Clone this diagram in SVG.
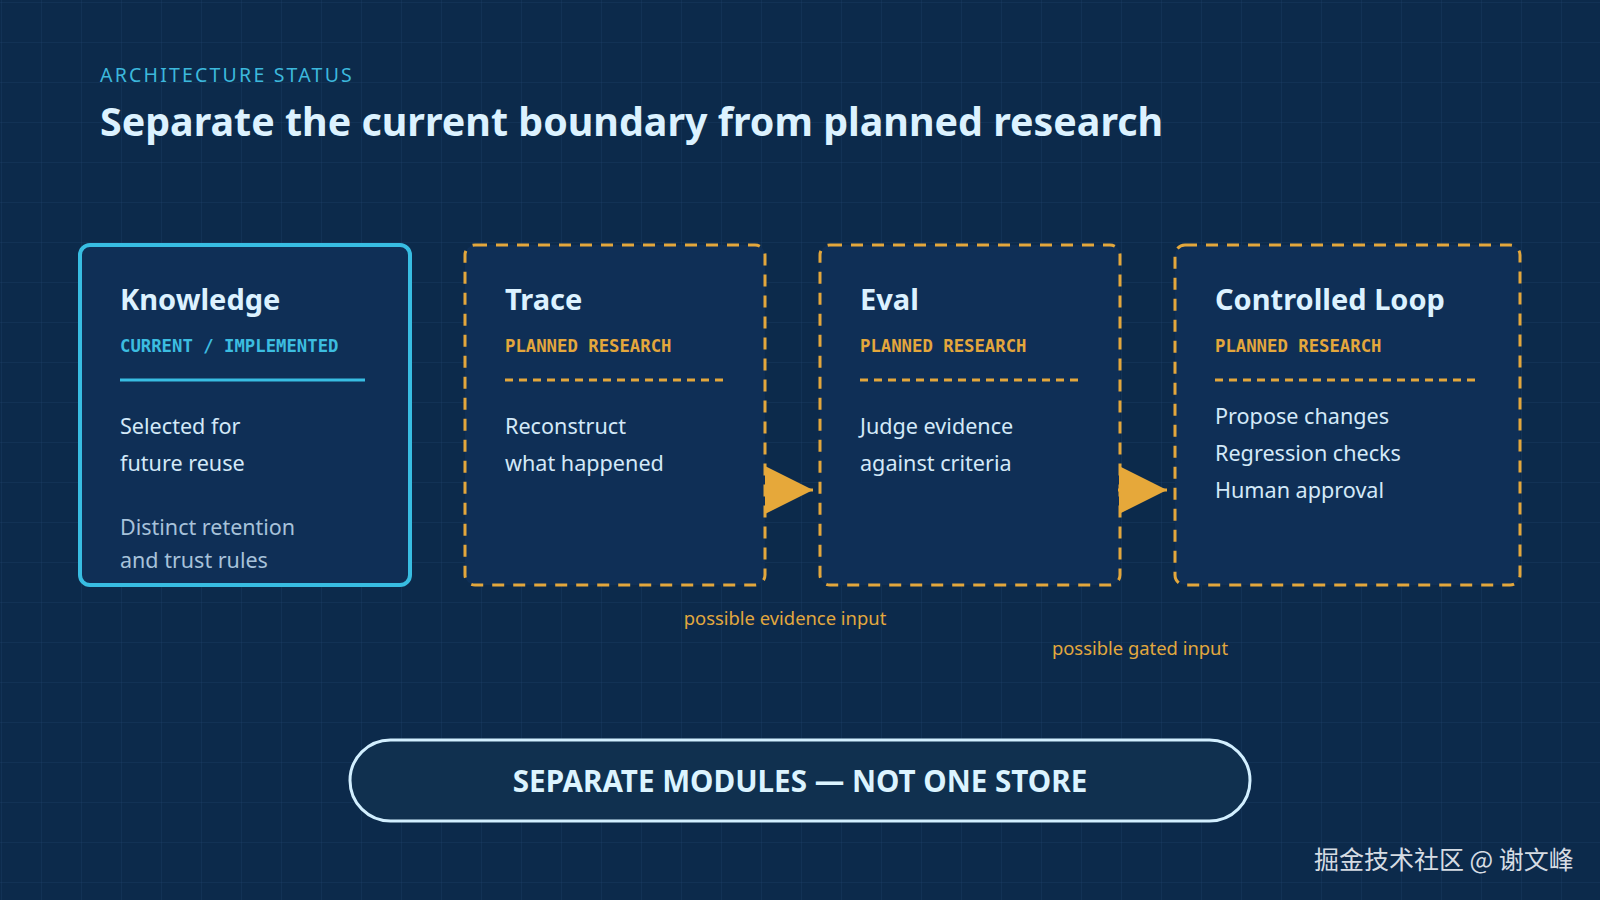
<svg xmlns="http://www.w3.org/2000/svg" width="1600" height="900" viewBox="0 0 1600 900">
  <defs>
    <pattern id="grid" x="1" y="2" width="40" height="40" patternUnits="userSpaceOnUse">
      <path d="M0 0 H40 M0 0 V40" fill="none" stroke="#2a5580" stroke-opacity="0.35" stroke-width="1"/>
    </pattern>
    <marker id="ah" viewBox="0 0 48 50" refX="48" refY="25" markerWidth="48" markerHeight="50" markerUnits="userSpaceOnUse" orient="auto">
      <path d="M0 1 L48 25 L0 49 Z" fill="#e6a83a"/>
    </marker>
    <style>
      .sans { font-family: "Segoe UI", "Noto Sans", "Open Sans", sans-serif; }
      .mono { font-family: "DejaVu Sans Mono", "Liberation Mono", monospace; font-weight: bold; font-size: 17.3px; }
      .box { fill: #0f2f56; }
      .cur { stroke: #38bde2; stroke-width: 4; }
      .plan { stroke: #e3a73c; stroke-width: 3; stroke-dasharray: 12 9; }
      .ntitle { font-size: 29px; font-weight: bold; fill: #dcf2ff; }
      .body { font-size: 21.6px; fill: #d3e9f8; }
      .dim { font-size: 21.5px; fill: #a7c2da; }
      .gold { fill: #e3a73c; }
      .cyan { fill: #3cbde0; }
      .conn { stroke: #e6a83a; stroke-width: 3; fill: none; }
      .clabel { font-size: 18.4px; fill: #e2a83e; }
    </style>
  </defs>

  <rect width="1600" height="900" fill="#0c2a4b"/>
  <rect width="1600" height="900" fill="url(#grid)"/>

  <g id="header">
    <text x="100" y="82" class="sans" font-size="19.5" letter-spacing="2.2" fill="#3cb8dc">ARCHITECTURE STATUS</text>
    <text x="100" y="136" class="sans" font-size="39.4" font-weight="bold" fill="#dcf2ff">Separate the current boundary from planned research</text>
  </g>

  <g id="node-knowledge">
    <rect x="80" y="245" width="330" height="340" rx="10" class="box cur"/>
    <text x="120" y="310" class="sans ntitle">Knowledge</text>
    <text x="120" y="352" class="mono cyan">CURRENT / IMPLEMENTED</text>
    <line x1="120" y1="380" x2="365" y2="380" stroke="#38bde2" stroke-width="3"/>
    <text x="120" y="434" class="sans body">Selected for</text>
    <text x="120" y="471" class="sans body">future reuse</text>
    <text x="120" y="535" class="sans dim">Distinct retention</text>
    <text x="120" y="568" class="sans dim">and trust rules</text>
  </g>

  <g id="node-trace">
    <rect x="465" y="245" width="300" height="340" rx="10" class="box plan"/>
    <text x="505" y="310" class="sans ntitle">Trace</text>
    <text x="505" y="352" class="mono gold">PLANNED RESEARCH</text>
    <line x1="505" y1="380" x2="723" y2="380" stroke="#e3a73c" stroke-width="3" stroke-dasharray="8 6"/>
    <text x="505" y="434" class="sans body">Reconstruct</text>
    <text x="505" y="471" class="sans body">what happened</text>
  </g>

  <g id="node-eval">
    <rect x="820" y="245" width="300" height="340" rx="10" class="box plan"/>
    <text x="860" y="310" class="sans ntitle">Eval</text>
    <text x="860" y="352" class="mono gold">PLANNED RESEARCH</text>
    <line x1="860" y1="380" x2="1078" y2="380" stroke="#e3a73c" stroke-width="3" stroke-dasharray="8 6"/>
    <text x="860" y="434" class="sans body">Judge evidence</text>
    <text x="860" y="471" class="sans body">against criteria</text>
  </g>

  <g id="node-loop">
    <rect x="1175" y="245" width="345" height="340" rx="10" class="box plan"/>
    <text x="1215" y="310" class="sans ntitle">Controlled Loop</text>
    <text x="1215" y="352" class="mono gold">PLANNED RESEARCH</text>
    <line x1="1215" y1="380" x2="1475" y2="380" stroke="#e3a73c" stroke-width="3" stroke-dasharray="8 6"/>
    <text x="1215" y="424" class="sans body">Propose changes</text>
    <text x="1215" y="461" class="sans body">Regression checks</text>
    <text x="1215" y="498" class="sans body">Human approval</text>
  </g>

  <g id="connectors">
    <path d="M764 490 H813" class="conn" marker-end="url(#ah)"/>
    <path d="M1118 490 H1167" class="conn" marker-end="url(#ah)"/>
    <text x="785" y="625" text-anchor="middle" class="sans clabel">possible evidence input</text>
    <text x="1140" y="655" text-anchor="middle" class="sans clabel">possible gated input</text>
  </g>

  <g id="footer-pill">
    <rect x="350" y="740" width="900" height="81" rx="40.5" fill="#10304f" stroke="#d2efff" stroke-width="3"/>
    <text x="800" y="792" text-anchor="middle" class="sans" font-size="29.6" font-weight="bold" fill="#dcf4ff">SEPARATE MODULES — NOT ONE STORE</text>
  </g>

  <g id="watermark">
    <text x="1314" y="869" font-family="'Noto Sans CJK SC', sans-serif" font-size="25" fill="#d6dce3">掘金技术社区 @ 谢文峰</text>
  </g>
</svg>
